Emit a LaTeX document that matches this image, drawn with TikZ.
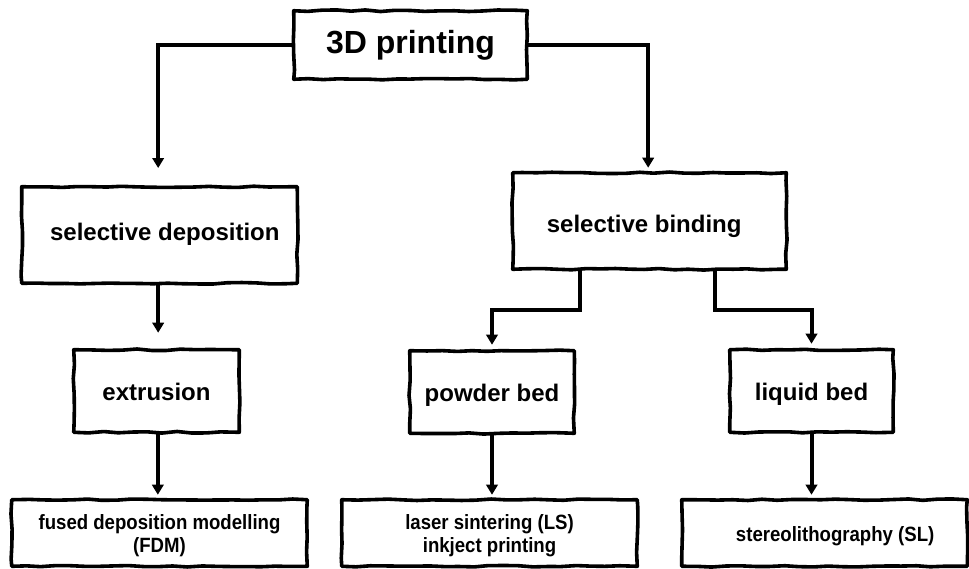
\documentclass[tikz,border=0pt]{standalone}
\usepackage{fontspec}
\setmainfont{Liberation Sans}
\newfontfamily\narrowfont{Liberation Sans}[FakeStretch=0.9]
\usetikzlibrary{arrows.meta,decorations.pathmorphing,calc}
\begin{document}
\begin{tikzpicture}[x=0.75pt,y=-0.75pt,
  boxnode/.style={inner sep=0pt, align=center},
  bigtext/.style={font=\fontsize{24pt}{28pt}\selectfont\bfseries},
  midtext/.style={font=\fontsize{18pt}{22pt}\selectfont\bfseries, text height=15pt, text depth=1.5pt},
  smalltext/.style={font=\narrowfont\fontsize{15.5pt}{17pt}\selectfont\bfseries, text height=12pt, text depth=12pt},
  boxline/.style={line width=2.7pt, line join=round, decorate,
     decoration={random steps, segment length=11pt, amplitude=0.6pt}},
  conn/.style={line width=3pt, line join=miter,
     -{Triangle[width=8.5pt,length=7.5pt]}}
]
\pgfmathsetseed{7}
\useasboundingbox (0,0) rectangle (969,568);
\fill[white] (0,0) rectangle (969,568);

% nodes
\node[boxnode, bigtext, minimum width=233*0.75pt, minimum height=68*0.75pt] (top) at (410.5,45) {3D printing};
\node[boxnode, midtext, minimum width=275*0.75pt, minimum height=96*0.75pt] (seldep) at (159.5,235) {\hspace*{8pt}\raisebox{3pt}{selective deposition}};
\node[boxnode, midtext, minimum width=273*0.75pt, minimum height=96*0.75pt] (selbind) at (649.5,221) {\raisebox{-2pt}{selective binding}\hspace*{8pt}};
\node[boxnode, midtext, minimum width=165*0.75pt, minimum height=82*0.75pt] (extr) at (156.5,391) {extrusion};
\node[boxnode, midtext, minimum width=164*0.75pt, minimum height=82*0.75pt] (powder) at (492,392) {powder bed};
\node[boxnode, midtext, minimum width=163*0.75pt, minimum height=82*0.75pt] (liquid) at (811.5,391) {liquid bed};
\node[boxnode, smalltext, minimum width=295*0.75pt, minimum height=66*0.75pt] (fdm) at (159.5,533) {\raisebox{-6.2pt}{\begin{tabular}{@{}c@{}}fused deposition modelling\\[0.5pt](FDM)\end{tabular}}};
\node[boxnode, smalltext, minimum width=295*0.75pt, minimum height=66*0.75pt] (ls) at (489.5,533) {\raisebox{-6.2pt}{\begin{tabular}{@{}c@{}}laser sintering (LS)\\[0.5pt]inkject printing\end{tabular}}};
\node[boxnode, smalltext, minimum width=285*0.75pt, minimum height=66*0.75pt] (sl) at (824.5,533) {\hspace*{16pt}\raisebox{-6pt}{stereolithography (SL)}};

% hand-drawn borders
\foreach \n in {top,seldep,selbind,extr,powder,liquid,fdm,ls,sl}
  \draw[boxline] (\n.north west) rectangle (\n.south east);

% connectors
\draw[conn] (top.west) -| ([xshift=-1pt,yshift=14pt]seldep.north);
\draw[conn] (top.east) -| ([xshift=-1pt,yshift=3.75pt]selbind.north);
\draw[conn] ([xshift=-1pt]seldep.south) -- ([xshift=-1pt,yshift=12.75pt]seldep.south |- extr.north);
\draw[conn] ([xshift=-52pt]selbind.south) -- ++(0,41) -| ([yshift=4.5pt]powder.north);
\draw[conn] ([xshift=49pt]selbind.south) -- ++(0,41) -| ([yshift=4.5pt]liquid.north);
\draw[conn] ([xshift=1pt]extr.south) -- ([xshift=1pt,yshift=3.75pt]extr.south |- fdm.north);
\draw[conn] (powder.south) -- ([yshift=3.75pt]powder.south |- ls.north);
\draw[conn] (liquid.south) -- ([yshift=3.75pt]liquid.south |- sl.north);
\end{tikzpicture}
\end{document}
